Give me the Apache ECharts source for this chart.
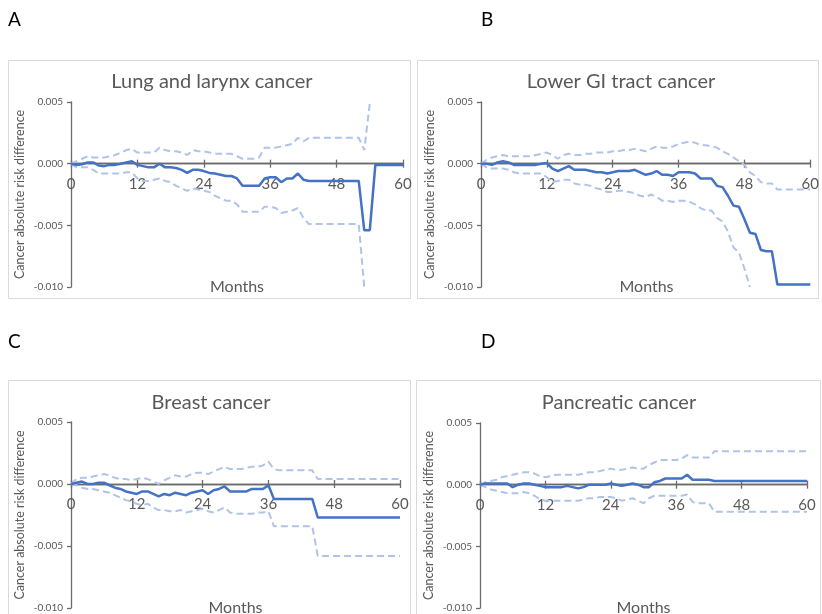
<!DOCTYPE html>
<html>
<head>
<meta charset="utf-8">
<script src="https://cdn.jsdelivr.net/npm/echarts@6/dist/echarts.min.js"></script>
<style>html,body{margin:0;padding:0;background:#fff}#c{width:822px;height:614px}</style>
</head>
<body>
<div id="c"></div>
<script>
// Months 0..60
const months = [0,1,2,3,4,5,6,7,8,9,10,11,12,13,14,15,16,17,18,19,20,21,22,23,24,25,26,27,28,29,30,31,32,33,34,35,36,37,38,39,40,41,42,43,44,45,46,47,48,49,50,51,52,53,54,55,56,57,58,59,60];
const xTicks = [0,12,24,36,48,60];
const yTicks = [-0.010,-0.005,0.000,0.005];
const titles = ["Lung and larynx cancer","Lower GI tract cancer","Breast cancer","Pancreatic cancer"];
const letters = ["A","B","C","D"];

// A: Lung and larynx cancer
const lungRD = [0,-0.0001,-0.00005,0.0001,0.0001,-0.00015,-0.0002,-0.0001,-0.0001,0,0.0001,0.0002,-0.0001,-0.0002,-0.0003,-0.0003,0,-0.0003,-0.0003,-0.00035,-0.0005,-0.00075,-0.0005,-0.0005,-0.0006,-0.00075,-0.0008,-0.0009,-0.001,-0.001,-0.0012,-0.0018,-0.0018,-0.0018,-0.0018,-0.0012,-0.0011,-0.0011,-0.0015,-0.0012,-0.0012,-0.0008,-0.0013,-0.0014,-0.0014,-0.0014,-0.0014,-0.0014,-0.0014,-0.0014,-0.0014,-0.0014,-0.0014,-0.0054,-0.0054,-0.0001,-0.0001,-0.0001,-0.0001,-0.0001,-0.0001];
const lungUpper = [0,0.0002,0.0004,0.0006,0.0005,0.0005,0.0005,0.0006,0.0007,0.0009,0.0011,0.0012,0.0009,0.0009,0.0009,0.0009,0.0013,0.0011,0.001,0.001,0.0009,0.0007,0.0011,0.001,0.001,0.0009,0.0008,0.0008,0.0008,0.0008,0.0006,0.0004,0.0004,0.0004,0.0005,0.0013,0.0013,0.0013,0.0014,0.0015,0.0016,0.0021,0.0018,0.0021,0.0021,0.0021,0.0021,0.0021,0.0021,0.0021,0.0021,0.0021,0.0021,0.0011,0.0049,null,null,null,null,null,null];
const lungLower = [0,-0.0003,-0.0003,-0.0003,-0.0005,-0.0008,-0.0008,-0.0008,-0.0008,-0.0008,-0.0007,-0.0007,-0.0012,-0.0014,-0.0014,-0.0013,-0.0012,-0.0014,-0.0015,-0.0018,-0.002,-0.0022,-0.002,-0.0021,-0.0022,-0.0023,-0.0026,-0.0028,-0.003,-0.003,-0.0033,-0.0039,-0.0039,-0.0039,-0.0039,-0.0035,-0.0035,-0.0036,-0.004,-0.0039,-0.0038,-0.0036,-0.0044,-0.0049,-0.0049,-0.0049,-0.0049,-0.0049,-0.0049,-0.0049,-0.0049,-0.0049,-0.0049,-0.0100,null,null,null,null,null,null,null];

// B: Lower GI tract cancer
const giRD = [0,0,-0.0001,0.0001,0.0002,0.0001,-0.0001,-0.0001,-0.0001,-0.0001,-0.0001,0,0.00005,-0.0004,-0.0006,-0.0004,-0.0002,-0.0005,-0.0005,-0.0005,-0.0006,-0.0007,-0.0007,-0.0008,-0.0007,-0.0006,-0.0006,-0.0006,-0.0005,-0.0007,-0.0009,-0.0008,-0.0006,-0.0009,-0.0009,-0.001,-0.0007,-0.0007,-0.0007,-0.0008,-0.0012,-0.0012,-0.0012,-0.0018,-0.0019,-0.0026,-0.0034,-0.0035,-0.0045,-0.0056,-0.0057,-0.007,-0.0071,-0.0071,-0.0098,-0.0098,-0.0098,-0.0098,-0.0098,-0.0098,-0.0098];
const giUpper = [0,0.0003,0.0005,0.0006,0.0007,0.0006,0.0006,0.0006,0.0006,0.0006,0.0007,0.0008,0.0009,0.0007,0.0004,0.0007,0.0008,0.0007,0.0007,0.0008,0.0008,0.0009,0.0009,0.0009,0.001,0.001,0.0011,0.0011,0.0012,0.0011,0.001,0.0012,0.0014,0.0013,0.0013,0.0014,0.0016,0.0017,0.0018,0.0017,0.0015,0.0015,0.0014,0.0013,0.001,0.0008,0.0005,0.0002,-0.0001,-0.0007,-0.001,-0.0015,-0.0016,-0.0016,-0.0021,-0.0021,-0.0021,-0.0021,-0.0021,-0.0021,-0.0021];
const giLower = [0,-0.0003,-0.0004,-0.0004,-0.0004,-0.0005,-0.0007,-0.0008,-0.0008,-0.0008,-0.0008,-0.0008,-0.0011,-0.0015,-0.0014,-0.0013,-0.0013,-0.0016,-0.0017,-0.0017,-0.0018,-0.002,-0.0021,-0.0023,-0.0023,-0.0022,-0.0022,-0.0023,-0.0024,-0.0026,-0.0027,-0.0025,-0.0027,-0.003,-0.003,-0.0031,-0.003,-0.003,-0.0031,-0.0033,-0.0036,-0.0038,-0.0038,-0.0044,-0.0047,-0.0055,-0.0068,-0.0072,-0.0085,-0.0100,null,null,null,null,null,null,null,null,null,null,null];

// C: Breast cancer
const breastRD = [0,0.0001,0.0002,0,0,0.0001,0.0001,-0.0001,-0.0003,-0.0004,-0.0006,-0.0007,-0.0008,-0.0006,-0.0006,-0.0008,-0.001,-0.0008,-0.0009,-0.0007,-0.0008,-0.0009,-0.0007,-0.0006,-0.0005,-0.0008,-0.0005,-0.0004,-0.0002,-0.0006,-0.0006,-0.0006,-0.0006,-0.0004,-0.0004,-0.0004,-0.0001,-0.0012,-0.0012,-0.0012,-0.0012,-0.0012,-0.0012,-0.0012,-0.0012,-0.0027,-0.0027,-0.0027,-0.0027,-0.0027,-0.0027,-0.0027,-0.0027,-0.0027,-0.0027,-0.0027,-0.0027,-0.0027,-0.0027,-0.0027,-0.0027];
const breastUpper = [0,0.0004,0.0005,0.0005,0.0006,0.0007,0.0008,0.0007,0.0005,0.0004,0.0004,0.0003,0.0004,0.0005,0.0004,0.0002,0,0.0003,0.0005,0.0007,0.0006,0.0006,0.0008,0.0009,0.0009,0.0008,0.001,0.0012,0.0014,0.0012,0.0012,0.0012,0.0013,0.0014,0.0014,0.0015,0.0018,0.0012,0.0011,0.0011,0.0011,0.0011,0.0011,0.0011,0.0011,0.0004,0.0004,0.0004,0.0004,0.0004,0.0004,0.0004,0.0004,0.0004,0.0004,0.0004,0.0004,0.0004,0.0004,0.0004,0.0004];
const breastLower = [0,-0.0001,-0.0003,-0.0004,-0.0004,-0.0005,-0.0006,-0.0007,-0.0009,-0.0011,-0.0013,-0.0014,-0.0016,-0.0017,-0.0016,-0.0019,-0.0021,-0.0021,-0.0022,-0.0022,-0.0021,-0.0023,-0.0022,-0.0021,-0.002,-0.0022,-0.0023,-0.0021,-0.0019,-0.0023,-0.0024,-0.0024,-0.0024,-0.0024,-0.0023,-0.0023,-0.0022,-0.0034,-0.0034,-0.0034,-0.0034,-0.0034,-0.0034,-0.0034,-0.0034,-0.0058,-0.0058,-0.0058,-0.0058,-0.0058,-0.0058,-0.0058,-0.0058,-0.0058,-0.0058,-0.0058,-0.0058,-0.0058,-0.0058,-0.0058,-0.0058];

// D: Pancreatic cancer
const pancRD = [0,0.0001,0.0001,0.0001,0.0001,0.0001,-0.0002,0,0.0001,0.0001,0,-0.0001,-0.0002,-0.0002,-0.0002,-0.0002,-0.0001,-0.0002,-0.0003,-0.0002,0,0,0,0,0.0001,0,-0.0001,0,0.0001,0,-0.0002,-0.0002,0.0002,0.0003,0.0005,0.0005,0.0005,0.0005,0.0008,0.0004,0.0004,0.0004,0.0004,0.0003,0.0003,0.0003,0.0003,0.0003,0.0003,0.0003,0.0003,0.0003,0.0003,0.0003,0.0003,0.0003,0.0003,0.0003,0.0003,0.0003,0.0003];
const pancUpper = [0,0.0002,0.0003,0.0004,0.0006,0.0007,0.0008,0.0009,0.001,0.001,0.0009,0.0007,0.0006,0.0007,0.0008,0.0008,0.0008,0.0008,0.0008,0.0009,0.001,0.001,0.0011,0.0012,0.0013,0.0012,0.0012,0.0013,0.0014,0.0013,0.0013,0.0016,0.0018,0.002,0.002,0.002,0.002,0.0021,0.0024,0.0022,0.0022,0.0022,0.0022,0.0027,0.0027,0.0027,0.0027,0.0027,0.0027,0.0027,0.0027,0.0027,0.0027,0.0027,0.0027,0.0027,0.0027,0.0027,0.0027,0.0027,0.0027];
const pancLower = [0,-0.0002,-0.0004,-0.0005,-0.0006,-0.0007,-0.0007,-0.0007,-0.0006,-0.0007,-0.0009,-0.0012,-0.0013,-0.0013,-0.0013,-0.0013,-0.0013,-0.0013,-0.0013,-0.0012,-0.0011,-0.0011,-0.001,-0.001,-0.001,-0.0011,-0.0013,-0.0012,-0.0011,-0.0013,-0.0015,-0.0011,-0.0009,-0.0009,-0.0009,-0.0009,-0.0009,-0.0009,-0.0008,-0.0014,-0.0015,-0.0015,-0.0015,-0.0022,-0.0022,-0.0022,-0.0022,-0.0022,-0.0022,-0.0022,-0.0022,-0.0022,-0.0022,-0.0022,-0.0022,-0.0022,-0.0022,-0.0022,-0.0022,-0.0022,-0.0022];

const panelData = [[lungRD, lungUpper, lungLower],[giRD, giUpper, giLower],[breastRD, breastUpper, breastLower],[pancRD, pancUpper, pancLower]];

// layout (pixels)
const grids = [
  {left:71, top:102, width:332, height:185},
  {left:481, top:102, width:331, height:185},
  {left:71, top:422, width:329, height:186},
  {left:480, top:423, width:327, height:185}
];
const boxes = [
  {x:8.5, y:60.5, w:402, h:238},{x:417.5, y:60.5, w:401, h:238},
  {x:8.5, y:380.5, w:402, h:260},{x:416.5, y:380.5, w:404, h:260}
];
const titlePos = [[212,82],[621,82],[211,403],[619,403]];
const letterPos = [[8,20],[481,20],[8,342],[481,342]];
const FONT = 'Lato, "Open Sans", sans-serif';
const GRAY = '#595959', AXIS = '#6b6b6b', MAIN = '#4472C4', CI = '#AFC4E8';

const yMin = yTicks[0], yMax = yTicks[yTicks.length - 1];

const option = {animation:false, backgroundColor:'#fff', textStyle:{fontFamily:FONT},
  grid: grids.map(g => ({left:g.left, top:g.top, width:g.width, height:g.height})),
  xAxis:[], yAxis:[], series:[], graphic:[]};

grids.forEach((g, i) => {
  // the x axis crosses the y axis at 0: shift the bottom axis up to the zero level of the y range
  const off = -g.height * (0 - yMin) / (yMax - yMin);
  const lineSt = {show:true, onZero:false, lineStyle:{color:AXIS, width:1.3}};
  option.xAxis.push({
    gridIndex: i, type: 'value', min: xTicks[0], max: xTicks[xTicks.length-1], interval: 12,
    position: 'bottom', offset: off, axisLine: lineSt,
    axisTick: {show: true, inside: false, length: 4, lineStyle: {color: AXIS, width: 1.3}},
    axisLabel: {show: true, fontSize: 15, color: GRAY, margin: 13, fontFamily: FONT},
    splitLine: {show: false}
  });
  option.xAxis.push({
    gridIndex: i, type: 'value', min: xTicks[0], max: xTicks[xTicks.length-1], interval: 12,
    position: 'bottom', offset: off, axisLine: lineSt,
    axisTick: {show: true, inside: true, length: 4, lineStyle: {color: AXIS, width: 1.3}},
    axisLabel: {show: false}, splitLine: {show: false}
  });
  option.yAxis.push({
    gridIndex: i, type: 'value', min: yMin, max: yMax, interval: 0.005,
    axisLine: {show: true, onZero: false, lineStyle: {color: AXIS, width: 1.3}},
    axisTick: {show: true, length: 4, lineStyle: {color: AXIS, width: 1.3}},
    axisLabel: {show: true, fontSize: 10, color: GRAY, margin: 8, fontFamily: FONT, formatter: v => v.toFixed(3)},
    splitLine: {show: false},
    name: 'Cancer absolute risk difference', nameLocation: 'middle', nameGap: 45,
    nameTextStyle: {fontSize: 12.5, color: GRAY, fontFamily: FONT}
  });
  const [rd, up, lo] = panelData[i];
  const mk = arr => months.map((m, k) => [m, arr[k]]);
  [up, lo].forEach(arr => option.series.push({type:'line', xAxisIndex: 2*i, yAxisIndex: i, data: mk(arr),
    showSymbol:false, symbol:'none', connectNulls:false, z:2, lineStyle:{color:CI, width:2, type:[7,4]}}));
  option.series.push({type:'line', xAxisIndex: 2*i, yAxisIndex: i, data: mk(rd), showSymbol:false, symbol:'none', z:3,
    lineStyle:{color:MAIN, width:2.5}});
  const b = boxes[i];
  option.graphic.push({type:'rect', shape:{x:b.x, y:b.y, width:b.w, height:b.h}, style:{fill:'none', stroke:'#D9D9D9', lineWidth:1}, z:-1, silent:true});
  option.graphic.push({type:'text', x:titlePos[i][0], y:titlePos[i][1], style:{text:titles[i], fill:GRAY, font:'20px '+FONT, align:'center', verticalAlign:'middle'}});
  option.graphic.push({type:'text', x:letterPos[i][0], y:letterPos[i][1], style:{text:letters[i], fill:'#000', font:'19px '+FONT, align:'left', verticalAlign:'middle'}});
  option.graphic.push({type:'text', x:g.left+g.width/2, y:g.top+g.height, style:{text:'Months', fill:GRAY, font:'16px '+FONT, align:'center', verticalAlign:'middle'}});
});
const chart = echarts.init(document.getElementById('c'));
chart.setOption(option);
</script>
</body>
</html>
